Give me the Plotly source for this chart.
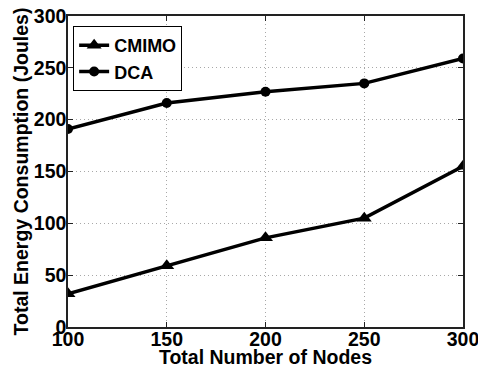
import plotly.graph_objects as go

nodes = [100, 150, 200, 250, 300]
cmimo = [32, 59, 86, 105, 155]
dca = [191, 216, 227, 235, 259]

x_ticks = [100, 150, 200, 250, 300]
y_ticks = [0, 50, 100, 150, 200, 250, 300]

font = dict(family="Liberation Sans, Arial, sans-serif", size=19.5, color="black", weight="bold")

fig = go.Figure()
fig.add_trace(go.Scatter(
    x=nodes, y=cmimo, name="CMIMO", mode="lines+markers",
    line=dict(color="black", width=3.5),
    marker=dict(symbol="triangle-up", size=13, color="black"),
))
fig.add_trace(go.Scatter(
    x=nodes, y=dca, name="DCA", mode="lines+markers",
    line=dict(color="black", width=3.5),
    marker=dict(symbol="circle", size=10, color="black"),
))

axis_common = dict(
    showline=True, linecolor="#222", linewidth=1.5, mirror="ticks",
    ticks="inside", ticklen=5, tickcolor="#222", tickwidth=1,
    showgrid=True, gridcolor="#a8a8a8", griddash="1px,3px", gridwidth=1,
    zeroline=False, tickfont=font, automargin=False,
    ticklabeloverflow="allow",
)

fig.update_xaxes(
    range=[100, 300], tickvals=x_ticks, ticktext=[str(v) for v in x_ticks],
    title=dict(text="Total Number of Nodes", font=font, standoff=2),
    ticklabelstandoff=-6,
    **axis_common,
)
fig.update_yaxes(
    range=[0, 300], tickvals=y_ticks, ticktext=[str(v) for v in y_ticks],
    title=dict(text="Total Energy Consumption (Joules)", font=font, standoff=0),
    ticklabelstandoff=-4,
    **axis_common,
)

fig.update_layout(
    width=478, height=368,
    margin=dict(l=68, r=15, t=16, b=41),
    paper_bgcolor="white", plot_bgcolor="white",
    font=font,
    showlegend=True,
    legend=dict(
        x=0.013, y=0.968, xanchor="left", yanchor="top",
        bgcolor="white", bordercolor="black", borderwidth=1,
        font=dict(family=font["family"], size=18, color="black", weight="bold"),
        itemwidth=30, tracegroupgap=0,
    ),
)

fig.write_html("out.html")
